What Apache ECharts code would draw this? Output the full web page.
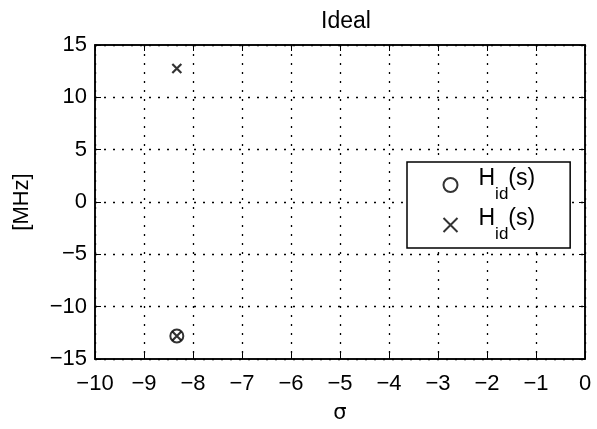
<!DOCTYPE html>
<html>
<head>
<meta charset="utf-8">
<script src="https://cdn.jsdelivr.net/npm/echarts@6/dist/echarts.min.js"></script>
<style>
    html, body {
        margin: 0;
        padding: 0;
        background: #ffffff;
    }

    #chart {
        width: 597px;
        height: 429px;
    }
</style>
</head>
<body>
<div id="chart"></div>
<script>
// poles / zeros of the ideal filter, [sigma, MHz]
const zeroPoints = [[-8.33, -12.8]]
const polePoints = [[-8.33, 12.75], [-8.33, -12.8]]

const xTicks = { min: -10, max: 0, interval: 1 }
const yTicks = { min: -15, max: 15, interval: 5 }

const legendText = '{h|H}{s|id}{h|(s)}'

const fontName = 'Liberation Sans'
const crossPath = 'path://M0,0L10,10M0,10L10,0'

const chart = echarts.init(document.getElementById('chart'))

function minusLabel(value) {
    return String(value).replace('-', '\u2212')
}

const gridLine = {
    show: true,
    lineStyle: {
        color: '#000',
        width: 1.3,
        type: [2, 7]
    }
}

const boxLine = { show: true, onZero: false, lineStyle: { color: '#000', width: 1.5 } }
const boxTick = { inside: true, length: 6, lineStyle: { color: '#000' } }

const option = {
    backgroundColor: '#fff',
    animation: false,
    title: {
        text: 'Ideal',
        left: 341,
        top: 5,
        textAlign: 'center',
        textStyle: {
            fontFamily: fontName,
            fontSize: 23,
            fontWeight: 'normal',
            color: '#000'
        }
    },
    grid: {
        left: 95,
        right: 12,
        top: 45,
        bottom: 70,
        show: true,
        borderColor: '#000',
        borderWidth: 1.5
    },
    legend: {
        orient: 'vertical',
        left: 407,
        top: 162,
        padding: [5, 35, 5, 34],
        itemGap: 4,
        itemWidth: 14,
        itemHeight: 14,
        borderColor: '#000',
        borderWidth: 1.5,
        backgroundColor: '#fff',
        data: [
            { name: 'zeros', icon: 'circle' },
            { name: 'poles', icon: crossPath }
        ],
        formatter: () => legendText,
        textStyle: {
            padding: [0, 0, 0, 16],
            rich: {
                h: {
                    fontFamily: fontName,
                    fontSize: 23,
                    color: '#000',
                    lineHeight: 36,
                    verticalAlign: 'top'
                },
                s: {
                    fontFamily: fontName,
                    fontSize: 17,
                    color: '#000',
                    lineHeight: 36,
                    verticalAlign: 'bottom'
                }
            }
        }
    },
    xAxis: [
        {
            type: 'value',
            min: xTicks.min,
            max: xTicks.max,
            interval: xTicks.interval,
            name: '\u03c3',
            nameLocation: 'middle',
            nameGap: 44,
            nameTextStyle: {
                fontFamily: 'DejaVu Sans',
                fontSize: 21,
                color: '#000'
            },
            axisLine: boxLine,
            axisTick: boxTick,
            axisLabel: {
                margin: 14,
                fontFamily: fontName,
                fontSize: 22,
                color: '#000',
                formatter: minusLabel
            },
            splitLine: gridLine
        },
        {
            type: 'value',
            position: 'top',
            min: xTicks.min,
            max: xTicks.max,
            interval: xTicks.interval,
            axisLine: boxLine,
            axisTick: boxTick,
            axisLabel: { show: false },
            splitLine: { show: false }
        }
    ],
    yAxis: [
        {
            type: 'value',
            min: yTicks.min,
            max: yTicks.max,
            interval: yTicks.interval,
            name: '[MHz]',
            nameLocation: 'middle',
            nameGap: 62,
            nameTextStyle: {
                fontFamily: fontName,
                fontSize: 22,
                color: '#000'
            },
            axisLine: boxLine,
            axisTick: boxTick,
            axisLabel: {
                margin: 8,
                fontFamily: fontName,
                fontSize: 22,
                color: '#000',
                formatter: minusLabel
            },
            splitLine: gridLine
        },
        {
            type: 'value',
            position: 'right',
            min: yTicks.min,
            max: yTicks.max,
            interval: yTicks.interval,
            axisLine: boxLine,
            axisTick: boxTick,
            axisLabel: { show: false },
            splitLine: { show: false }
        }
    ],
    series: [
        {
            name: 'zeros',
            type: 'scatter',
            data: zeroPoints,
            symbol: 'circle',
            symbolSize: 13,
            itemStyle: {
                color: 'none',
                borderColor: '#000',
                borderWidth: 2
            }
        },
        {
            name: 'poles',
            type: 'scatter',
            data: polePoints,
            symbol: crossPath,
            symbolSize: 9,
            itemStyle: {
                color: 'none',
                borderColor: '#000',
                borderWidth: 2.2
            }
        }
    ]
}

chart.setOption(option)
</script>
</body>
</html>
